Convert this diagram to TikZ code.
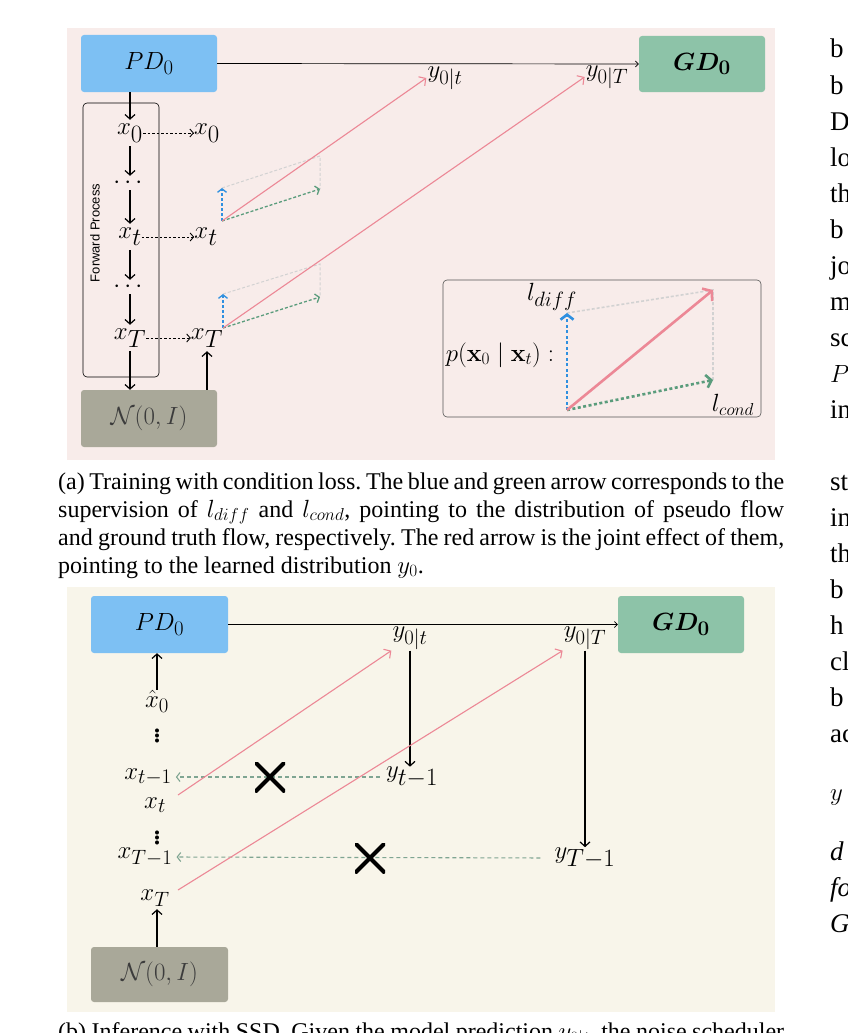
\documentclass[tikz,border=0pt]{standalone}
\usepackage[no-math]{fontspec}
\setmainfont{Liberation Serif}
\newfontfamily\fpsans{Liberation Sans}
\usepackage{amsmath,amssymb}
\usetikzlibrary{arrows.meta}
\definecolor{bga}{HTML}{F8ECEA}
\definecolor{bgb}{HTML}{F8F5EA}
\definecolor{pdblue}{HTML}{7DC0F3}
\definecolor{gdgreen}{HTML}{8DC3A8}
\definecolor{ngray}{HTML}{A9A899}
\definecolor{ntext}{HTML}{3C3C3C}
\definecolor{redl}{HTML}{EC8896}
\definecolor{bluel}{HTML}{2F90E0}
\definecolor{greenl}{HTML}{5A9C7C}
\definecolor{grayl}{HTML}{D2D2D2}
\definecolor{greenb}{HTML}{7FA592}
\definecolor{insetc}{HTML}{555555}
\newcommand\fsz[1]{\fontsize{#1}{#1}\selectfont}
\frenchspacing
\begin{document}
\begin{tikzpicture}[x=1pt,y=-1pt,
  every node/.style={inner sep=1pt},
  box/.style={rounded corners=3pt, inner sep=0pt},
  xl/.style={font=\fsz{35}, inner sep=0pt, minimum height=26pt},
  bl/.style={font=\fsz{29}, inner sep=0pt, minimum height=22pt},
  dl/.style={font=\fsz{32}, inner sep=0pt, minimum height=14pt},
  vdl/.style={font=\fsz{34}, inner sep=0pt},
  carr/.style={line width=1.2pt, -{Straight Barb[length=4.5pt,width=10pt]}},
  darr/.style={line width=0.9pt, dash pattern=on 2.5pt off 2pt, -{Straight Barb[length=3.5pt,width=8pt]}},
  tarr/.style={line width=0.7pt, -{Straight Barb[length=3pt,width=6pt]}},
  rarr/.style={redl, line width=1.1pt, -{Straight Barb[length=5pt,width=11pt]}},
  grayd/.style={grayl, line width=1pt, dash pattern=on 3pt off 2pt},
  bluea/.style={bluel, line width=1.3pt, dash pattern=on 3pt off 2pt, -{Straight Barb[length=3.5pt,width=9pt]}},
  greena/.style={greenl, line width=1.3pt, dash pattern=on 3pt off 2pt, -{Straight Barb[length=3.5pt,width=9pt]}},
  bigblue/.style={bluel, line width=2.6pt, dash pattern=on 3pt off 2.5pt, -{Straight Barb[length=5pt,width=13pt]}},
  biggreen/.style={greenl, line width=2.6pt, dash pattern=on 3pt off 2.5pt, -{Straight Barb[length=5pt,width=13pt]}},
  bigred/.style={redl, line width=2.6pt, -{Straight Barb[length=6pt,width=16pt]}},
  gdash/.style={greenb, line width=1.1pt, dash pattern=on 4pt off 3pt, -{Straight Barb[length=3.5pt,width=9pt]}},
  crossmark/.style={minimum size=30pt, inner sep=0pt, path picture={\draw[line width=4.2pt] (path picture bounding box.south west) -- (path picture bounding box.north east) (path picture bounding box.north west) -- (path picture bounding box.south east);}},
  captext/.style={anchor=base west, inner sep=0pt, font=\fsz{24}},
  rcol/.style={anchor=base west, inner sep=0pt, font=\fsz{27}}
]
\useasboundingbox (0,0) rectangle (847,1033);

% ---------------- panel (a) ----------------
\fill[bga] (67,28) rectangle (775,460);
\node[box, fill=pdblue, minimum width=136pt, minimum height=57pt, font=\fsz{31}] (pda) at (149,63.5) {$PD_0$};
\node[box, fill=gdgreen, minimum width=126pt, minimum height=56pt, font=\fsz{30}] (gda) at (702,64) {$\boldsymbol{GD_0}$};
\draw[tarr] (pda.east) -- (gda.west);
\node[font=\fsz{30}] (ya0t) at (445,78) {$y_{0|t}$};
\node[font=\fsz{30}] (ya0T) at (607,77) {$y_{0|T}$};

\node[draw, rounded corners=4pt, line width=0.6pt, minimum width=76pt, minimum height=274pt, inner sep=0pt] (fwd) at (121,240) {};
\node[rotate=90, font=\fpsans\fsz{13}] (fwdl) at (95,233) {Forward Process};

\node[xl] (xa0) at (130,133) {$x_0$};
\node[dl] (da1) at (130,183) {$\cdots$};
\node[xl] (xat) at (130,237) {$x_t$};
\node[dl] (da2) at (130,287) {$\cdots$};
\node[xl] (xaT) at (130,338) {$x_T$};
\node[box, fill=ngray, minimum width=136pt, minimum height=57pt, font=\fsz{27}, text=ntext] (na) at (149,418.5) {$\mathcal{N}(0,I)$};

\draw[carr] (pda.south -| xa0) -- (xa0.north);
\draw[carr] (xa0.south) -- (da1.north);
\draw[carr] (da1.south) -- (xat.north);
\draw[carr] (xat.south) -- (da2.north);
\draw[carr] (da2.south) -- (xaT.north);
\draw[carr] (xaT.south) -- (xaT.south |- na.north);

\node[xl] (xb0) at (207,133) {$x_0$};
\node[xl] (xbt) at (206,237) {$x_t$};
\node[xl] (xbT) at (207,338) {$x_T$};
\draw[darr] (xa0.east) -- (xb0.west);
\draw[darr] (xat.east) -- (xbt.west);
\draw[darr] (xaT.east) -- (xbT.west);
\draw[carr] (na.north -| xbT) -- (xbT.south);

\coordinate (o1) at (222,221); \coordinate (b1) at (222,188);
\coordinate (g1) at (320,189); \coordinate (c1) at (320,156);
\draw[grayd] (b1) -- (c1) -- (g1);
\draw[bluea] (o1) -- (b1);
\draw[greena] (o1) -- (g1);
\draw[rarr] (o1) -- (ya0t.west);

\coordinate (o2) at (223,328); \coordinate (b2) at (223,294);
\coordinate (g2) at (320,297); \coordinate (c2) at (320,264);
\draw[grayd] (b2) -- (c2) -- (g2);
\draw[bluea] (o2) -- (b2);
\draw[greena] (o2) -- (g2);
\draw[rarr] (o2) -- (ya0T.west);

% inset
\node[draw=insetc, rounded corners=4pt, line width=0.6pt, minimum width=318pt, minimum height=137pt, inner sep=0pt] (inset) at (602,348.5) {};
\node[font=\fsz{24}] (pl) at (500,355) {$p(\mathbf{x}_0\mid\mathbf{x}_t):$};
\coordinate (o3) at (567,410); \coordinate (b3) at (567,313);
\coordinate (g3) at (713,380); \coordinate (r3) at (713,290);
\draw[grayd, line width=1.6pt] (b3) -- (r3) -- (g3);
\draw[bigblue] (o3) -- (b3);
\draw[biggreen] (o3) -- (g3);
\draw[bigred] (o3) -- (r3);
\node[font=\fsz{28}] (ldiff) at (552,297) {$l_{diff}$};
\node[font=\fsz{26}] (lcond) at (733,405) {$l_{cond}$};

% caption (a)
\node[captext] (ca1) at (58,489) {\makebox[726pt][s]{(a) Training with condition loss. The blue and green arrow corresponds to the}};
\node[captext] (ca2) at (58,517) {\makebox[726pt][s]{supervision of $l_{diff}$ and $l_{cond}$, pointing to the distribution of pseudo flow}};
\node[captext] (ca3) at (58,545) {\makebox[726pt][s]{and ground truth flow, respectively. The red arrow is the joint effect of them,}};
\node[captext] (ca4) at (58,573) {pointing to the learned distribution $y_0$.};

% ---------------- panel (b) ----------------
\fill[bgb] (67,587) rectangle (775,1012);
\node[box, fill=pdblue, minimum width=137pt, minimum height=57pt, font=\fsz{31}] (pdb) at (159.5,624.5) {$PD_0$};
\node[box, fill=gdgreen, minimum width=126pt, minimum height=57pt, font=\fsz{30}] (gdb) at (681,624.5) {$\boldsymbol{GD_0}$};
\draw[tarr] (pdb.east) -- (gdb.west);
\node[font=\fsz{30}] (yb0t) at (410,638) {$y_{0|t}$};
\node[font=\fsz{30}] (yb0T) at (585,638) {$y_{0|T}$};
\node[font=\fsz{33}, inner sep=0pt, minimum height=20pt] (ybt1) at (412,777) {$y_{t-1}$};
\node[font=\fsz{34}, inner sep=0pt, minimum height=20pt] (ybT1) at (585,858) {$y_{T-1}$};
\draw[carr] (yb0t.south) -- (yb0t.south |- ybt1.north);
\draw[carr] (yb0T.south) -- (yb0T.south |- ybT1.north);

\node[bl] (xh0) at (157,701) {$\hat{x}_0$};
\node[vdl] (vd1) at (157,733) {$\vdots$};
\node[bl] (xct1) at (148,777) {$x_{t-1}$};
\node[bl] (xct) at (155,805) {$x_t$};
\node[vdl] (vd2) at (157,835) {$\vdots$};
\node[bl] (xcT1) at (145,857) {$x_{T-1}$};
\node[font=\fsz{32}, inner sep=0pt, minimum height=22pt] (xcT) at (155,898) {$x_T$};
\node[box, fill=ngray, minimum width=137pt, minimum height=55pt, font=\fsz{27}, text=ntext] (nb) at (159.5,974.5) {$\mathcal{N}(0,I)$};

\draw[carr] (xh0.north) -- (pdb.south -| xh0);
\draw[carr] (nb.north -| xh0) -- (xcT.south -| xh0);

\draw[gdash, shorten >=4pt, shorten <=6pt] (ybt1.west) -- (xct1.east);
\draw[gdash, shorten >=4pt, shorten <=14pt] (ybT1.west) -- (xcT1.east);
\node[crossmark] (x1) at (270,777) {};
\node[crossmark] (x2) at (370,858) {};

\coordinate (rs1) at (178,795);
\coordinate (rs2) at (178,890);
\draw[rarr] (rs1) -- (yb0t.south west);
\draw[rarr] (rs2) -- (yb0T.south west);

% caption (b)
\node[captext] (cb1) at (58,1039) {\makebox[726pt][s]{(b) Inference with SSD. Given the model prediction $y_{0|t}$, the noise scheduler}};

% ---------------- right column fragments ----------------
\node[rcol] (r1) at (830,58) {b};
\node[rcol] (r2) at (830,94) {b};
\node[rcol] (r3) at (830,130) {D};
\node[rcol] (r4) at (830,166) {lo};
\node[rcol] (r5) at (830,202) {th};
\node[rcol] (r6) at (830,238) {b};
\node[rcol] (r7) at (830,274) {jo};
\node[rcol] (r8) at (830,310) {m};
\node[rcol] (r9) at (830,346) {sc};
\node[rcol] (r10) at (830,382) {$P$};
\node[rcol] (r11) at (830,418) {in};
\node[rcol] (r12) at (830,490) {st};
\node[rcol] (r13) at (830,526) {in};
\node[rcol] (r14) at (830,562) {th};
\node[rcol] (r15) at (830,598) {b};
\node[rcol] (r16) at (830,634) {h};
\node[rcol] (r17) at (830,670) {cl};
\node[rcol] (r18) at (830,706) {b};
\node[rcol] (r19) at (830,742) {ac};
\node[rcol] (r20) at (830,800) {$y$};
\node[rcol] (r21) at (830,860) {\itshape d};
\node[rcol] (r22) at (830,896) {\itshape fo};
\node[rcol] (r23) at (830,932) {\itshape G};
\end{tikzpicture}
\end{document}
